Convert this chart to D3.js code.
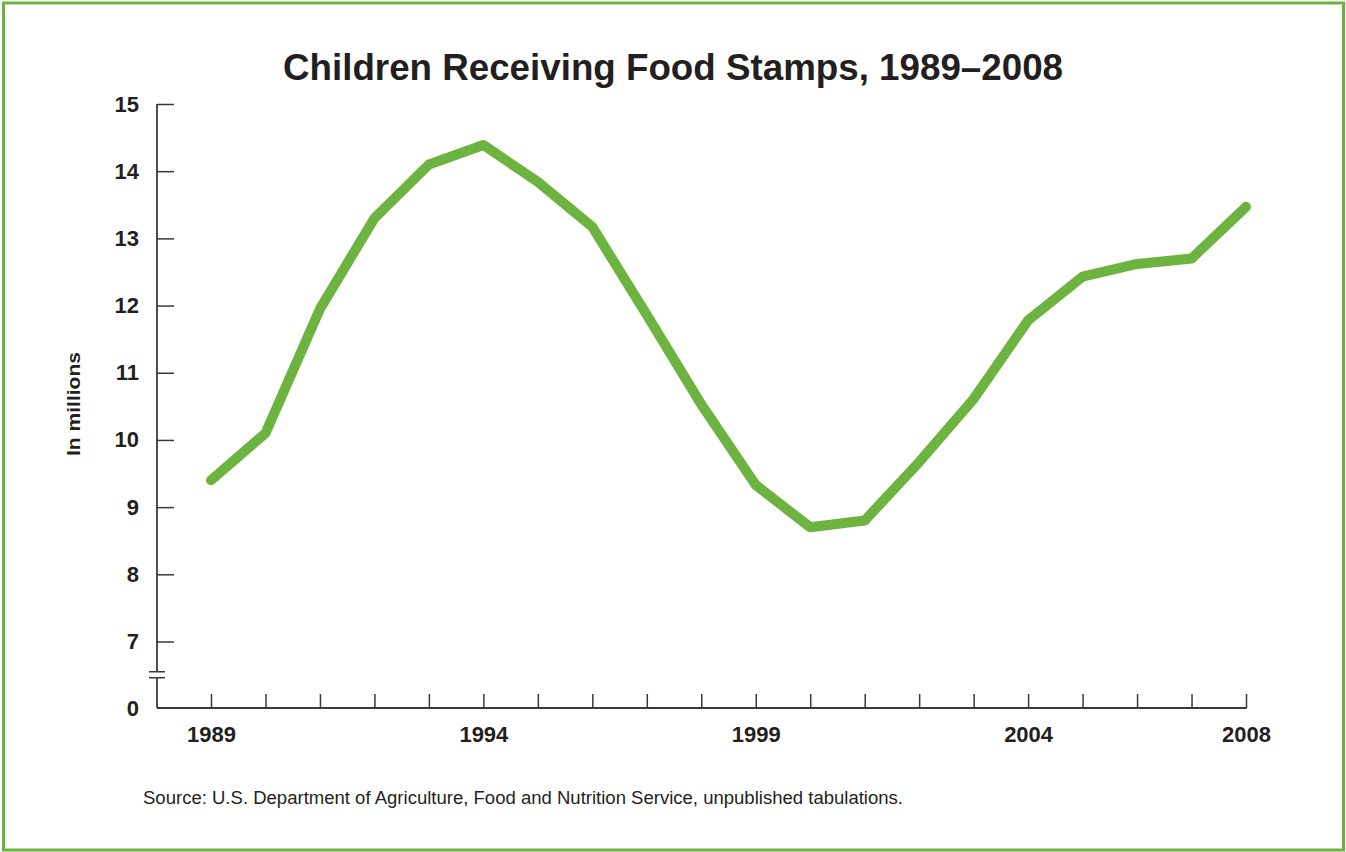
<!DOCTYPE html>
<html>
<head>
<meta charset="utf-8">
<script src="https://cdn.jsdelivr.net/npm/d3@7/dist/d3.min.js"></script>
<style>
  html, body { margin: 0; padding: 0; background: #fff; }
  svg { display: block; }
  text { font-family: "Liberation Sans", Arial, sans-serif; fill: #231f20; }
</style>
</head>
<body>
<svg id="chart" width="1346" height="852"></svg>
<script>
// children receiving food stamps, millions
var years = [1989, 1990, 1991, 1992, 1993, 1994, 1995, 1996, 1997, 1998,
             1999, 2000, 2001, 2002, 2003, 2004, 2005, 2006, 2007, 2008]
var children = [9.40, 10.10, 11.95, 13.30, 14.10, 14.39, 13.84, 13.17, 11.86, 10.53,
                9.33, 8.70, 8.80, 9.67, 10.61, 11.78, 12.43, 12.62, 12.70, 13.47]
var yTicks = [0, 7, 8, 9, 10, 11, 12, 13, 14, 15]
var labelYears = [1989, 1994, 1999, 2004, 2008]

var title = "Children Receiving Food Stamps, 1989\u20132008"
var yTitle = "In millions"
var source = "Source: U.S. Department of Agriculture, Food and Nutrition Service, unpublished tabulations."

var green = "#6db33f", ink = "#3a3a3a"

var svg = d3.select("#chart")

// green frame
svg.append("rect")
    .attr("x", 3.5).attr("y", 3)
    .attr("width", 1340).attr("height", 847)
    .attr("fill", "none")
    .attr("stroke", green)
    .attr("stroke-width", 3)

var x = d3.scaleLinear().domain([1989, 2008]).range([211, 1246])
// broken axis: 0..7 squeezed, 7..15 linear
var y = d3.scaleLinear().domain([0, 7, 15]).range([708, 641.5, 104])
var axisX = 157

svg.append("text")
    .attr("x", 673).attr("y", 80)
    .attr("text-anchor", "middle")
    .attr("font-size", 37).attr("font-weight", "bold")
    .attr("textLength", 780).attr("lengthAdjust", "spacingAndGlyphs")
    .text(title)

// y axis
var gy = svg.append("g")
    .attr("transform", "translate(" + axisX + ",0)")
    .call(d3.axisLeft(y).tickValues(yTicks).tickSizeInner(-17).tickSizeOuter(0).tickPadding(18))
gy.select(".domain").remove()
gy.selectAll(".tick line").attr("stroke", ink).attr("stroke-width", 1.5)
gy.selectAll(".tick line").filter(function(d) { return d == 0 }).remove()
gy.selectAll(".tick text")
    .attr("font-size", 22).attr("font-weight", "bold")
    .attr("font-family", "Liberation Sans, Arial, sans-serif")
    .attr("fill", "#231f20")

var brk = y(3.5)
svg.append("line")
    .attr("x1", axisX).attr("x2", axisX)
    .attr("y1", y(15)).attr("y2", brk - 3)
    .attr("stroke", ink).attr("stroke-width", 1.8)
svg.append("line")
    .attr("x1", axisX).attr("x2", axisX)
    .attr("y1", brk + 3).attr("y2", y(0))
    .attr("stroke", ink).attr("stroke-width", 1.8)
svg.selectAll(".brk")
    .data([brk - 3, brk + 3])
    .join("line")
    .attr("class", "brk")
    .attr("x1", axisX - 8).attr("x2", axisX + 8)
    .attr("y1", function(d) { return d }).attr("y2", function(d) { return d })
    .attr("stroke", ink).attr("stroke-width", 1.5)

// x axis
var gx = svg.append("g")
    .attr("transform", "translate(0," + y(0) + ")")
    .call(d3.axisBottom(x).tickValues(years).tickSizeInner(-14).tickSizeOuter(0).tickPadding(18)
        .tickFormat(function(d) { return labelYears.indexOf(d) >= 0 ? d : "" }))
gx.select(".domain").remove()
gx.selectAll(".tick line").attr("stroke", ink).attr("stroke-width", 1.5)
gx.selectAll(".tick text")
    .attr("font-size", 22).attr("font-weight", "bold")
    .attr("font-family", "Liberation Sans, Arial, sans-serif")
    .attr("fill", "#231f20")
svg.append("line")
    .attr("x1", axisX).attr("x2", x(2008) + 0.75)
    .attr("y1", y(0)).attr("y2", y(0))
    .attr("stroke", ink).attr("stroke-width", 1.8)

svg.append("text")
    .attr("transform", "translate(80," + 404 + ") rotate(-90)")
    .attr("text-anchor", "middle")
    .attr("font-size", 19).attr("font-weight", "bold")
    .attr("textLength", 104).attr("lengthAdjust", "spacingAndGlyphs")
    .text(yTitle)

// the series
var line = d3.line()
    .x(function(d, i) { return x(years[i]) })
    .y(function(d) { return y(d) })

svg.append("path")
    .datum(children)
    .attr("d", line)
    .attr("fill", "none")
    .attr("stroke", green)
    .attr("stroke-width", 10)
    .attr("stroke-linejoin", "round")
    .attr("stroke-linecap", "round")

svg.append("text")
    .attr("x", 143).attr("y", 804)
    .attr("font-size", 17.5)
    .attr("textLength", 760).attr("lengthAdjust", "spacingAndGlyphs")
    .text(source)
</script>
</body>
</html>
